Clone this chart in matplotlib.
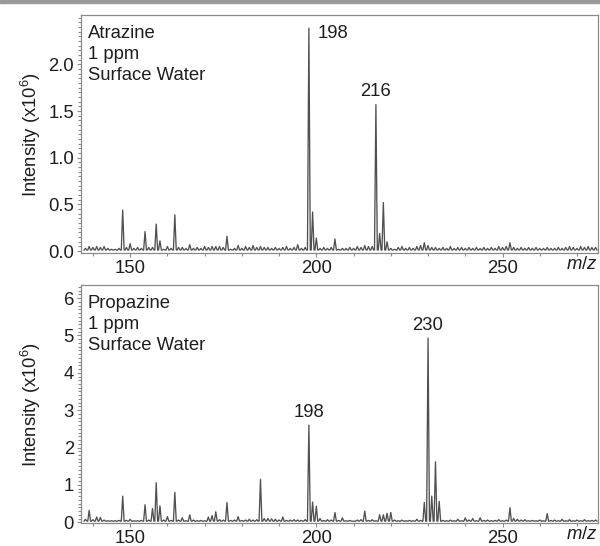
import numpy as np
import matplotlib.pyplot as plt
from matplotlib.ticker import MultipleLocator, FixedLocator

plt.rcParams['font.family'] = ['Liberation Sans', 'DejaVu Sans']
plt.rcParams['mathtext.fontset'] = 'custom'
plt.rcParams['mathtext.rm'] = 'Liberation Sans'
plt.rcParams['mathtext.it'] = 'Liberation Sans:italic'

# m/z channels, one per integer mass
mz = np.arange(138, 276)

# Atrazine, 1 ppm surface water (intensity x10^6)
atrazine = [
    0.03, 0.05, 0.04, 0.05, 0.04, 0.05, 0.03, 0.02, 0.02, 0.03,   # 138-147
    0.44, 0.04, 0.08, 0.03, 0.04, 0.03, 0.21, 0.04, 0.04, 0.29,   # 148-157
    0.11, 0.02, 0.05, 0.03, 0.39, 0.04, 0.04, 0.03, 0.07, 0.03,   # 158-167
    0.04, 0.03, 0.05, 0.04, 0.05, 0.05, 0.05, 0.04, 0.16, 0.02,   # 168-177
    0.03, 0.06, 0.03, 0.05, 0.04, 0.06, 0.04, 0.05, 0.04, 0.04,   # 178-187
    0.03, 0.04, 0.03, 0.04, 0.05, 0.03, 0.04, 0.07, 0.03, 0.04,   # 188-197
    2.39, 0.42, 0.14, 0.03, 0.04, 0.03, 0.04, 0.13, 0.02, 0.03,   # 198-207
    0.03, 0.04, 0.03, 0.05, 0.04, 0.06, 0.05, 0.05, 1.57, 0.19,   # 208-217
    0.52, 0.10, 0.03, 0.02, 0.04, 0.05, 0.03, 0.04, 0.03, 0.05,   # 218-227
    0.06, 0.09, 0.06, 0.04, 0.04, 0.03, 0.04, 0.03, 0.05, 0.03,   # 228-237
    0.04, 0.04, 0.03, 0.04, 0.03, 0.04, 0.03, 0.04, 0.03, 0.04,   # 238-247
    0.03, 0.05, 0.04, 0.05, 0.09, 0.04, 0.03, 0.04, 0.03, 0.04,   # 248-257
    0.03, 0.04, 0.03, 0.03, 0.04, 0.03, 0.03, 0.04, 0.03, 0.04,   # 258-267
    0.05, 0.04, 0.03, 0.05, 0.04, 0.05, 0.04, 0.04,               # 268-275
]

# Propazine, 1 ppm surface water (intensity x10^6)
propazine = [
    0.08, 0.32, 0.07, 0.14, 0.13, 0.06, 0.04, 0.04, 0.04, 0.05,   # 138-147
    0.70, 0.05, 0.08, 0.04, 0.04, 0.05, 0.47, 0.06, 0.37, 1.06,   # 148-157
    0.44, 0.06, 0.15, 0.05, 0.80, 0.06, 0.12, 0.04, 0.20, 0.06,   # 158-167
    0.04, 0.05, 0.04, 0.14, 0.18, 0.28, 0.07, 0.06, 0.53, 0.05,   # 168-177
    0.06, 0.15, 0.05, 0.06, 0.08, 0.06, 0.07, 1.15, 0.10, 0.10,   # 178-187
    0.09, 0.08, 0.06, 0.14, 0.05, 0.06, 0.07, 0.06, 0.05, 0.07,   # 188-197
    2.60, 0.54, 0.43, 0.10, 0.05, 0.07, 0.06, 0.26, 0.05, 0.12,   # 198-207
    0.04, 0.05, 0.03, 0.06, 0.07, 0.30, 0.05, 0.07, 0.04, 0.20,   # 208-217
    0.20, 0.24, 0.26, 0.06, 0.04, 0.06, 0.04, 0.05, 0.04, 0.08,   # 218-227
    0.05, 0.53, 4.93, 0.70, 1.62, 0.56, 0.05, 0.04, 0.06, 0.04,   # 228-237
    0.08, 0.04, 0.12, 0.06, 0.10, 0.04, 0.12, 0.05, 0.06, 0.04,   # 238-247
    0.05, 0.07, 0.04, 0.06, 0.39, 0.10, 0.08, 0.06, 0.07, 0.04,   # 248-257
    0.05, 0.04, 0.06, 0.04, 0.23, 0.05, 0.06, 0.04, 0.08, 0.04,   # 258-267
    0.07, 0.04, 0.06, 0.04, 0.07, 0.04, 0.05, 0.06,               # 268-275
]

atrazine_yticks = [0.0, 0.5, 1.0, 1.5, 2.0]
propazine_yticks = [0, 1, 2, 3, 4, 5, 6]

panels = [
    ("Atrazine\n1 ppm\nSurface Water", atrazine, [198, 216], (-0.02, 2.53), atrazine_yticks, 0.05),
    ("Propazine\n1 ppm\nSurface Water", propazine, [198, 230], (-0.02, 6.35), propazine_yticks, 0.1),
]

FS = 13.3
TXT = '#1e1e1e'


def profile(mz, inten, valley, half=0.38):
    # turn centroid values into a simple profile trace
    xs, ys = [], []
    for m, v in zip(mz, inten):
        xs += [m - half, m, m + half]
        ys += [valley, v, valley]
    return np.array(xs), np.array(ys)


fig = plt.figure(figsize=(6.0, 5.46), dpi=100)
fig.patches.append(plt.Rectangle((0, 1 - 3 / 546), 1, 3 / 546, transform=fig.transFigure,
                                 color='#9a9a9a', zorder=0))

boxes = [[0.135, 0.5366, 0.862, 0.4359], [0.135, 0.0421, 0.862, 0.4359]]

for i, (label, inten, marks, ylim, yticks, minor) in enumerate(panels):
    ax = fig.add_axes(boxes[i])
    valley = 0.012 if i == 0 else 0.03
    x, y = profile(mz, inten, valley)
    ax.plot(x, y, color='#505050', lw=0.95)
    ax.set_xlim(136.8, 275.7)
    ax.set_ylim(*ylim)

    ax.xaxis.set_major_locator(MultipleLocator(50))
    ax.xaxis.set_minor_locator(MultipleLocator(10))
    ax.yaxis.set_major_locator(FixedLocator(yticks))
    ax.yaxis.set_minor_locator(MultipleLocator(minor))
    ax.tick_params(which='both', direction='out', color='#8a8a8a', width=0.8,
                   labelsize=FS, labelcolor=TXT, top=False, right=False)
    ax.tick_params(which='major', length=3, pad=2)
    ax.tick_params(which='minor', length=2)
    if i == 0:
        ax.yaxis.set_major_formatter(plt.FormatStrFormatter('%.1f'))
    for s in ax.spines.values():
        s.set_color('#8a8a8a')
        s.set_linewidth(0.9)

    ax.set_ylabel('Intensity (x10$^6$)', fontsize=FS, color=TXT)
    ax.yaxis.set_label_coords(-0.074, 0.5)
    ax.text(0.013, 0.96, label, transform=ax.transAxes, ha='left', va='top',
            fontsize=FS, color=TXT, linespacing=1.32)
    ax.text(0.998, -0.05, '$m/z$', transform=ax.transAxes, ha='right', va='center',
            fontsize=FS, color=TXT)

    vals = dict(zip(mz, inten))
    for m in marks:
        if i == 0 and m == 198:
            ax.annotate(str(m), (m, vals[m]), xytext=(6, -4), textcoords='offset points',
                        ha='left', va='center', fontsize=FS, color=TXT)
        else:
            ax.annotate(str(m), (m, vals[m]), xytext=(0, 3), textcoords='offset points',
                        ha='center', va='bottom', fontsize=FS, color=TXT)

fig.savefig('out.png', dpi=100)
